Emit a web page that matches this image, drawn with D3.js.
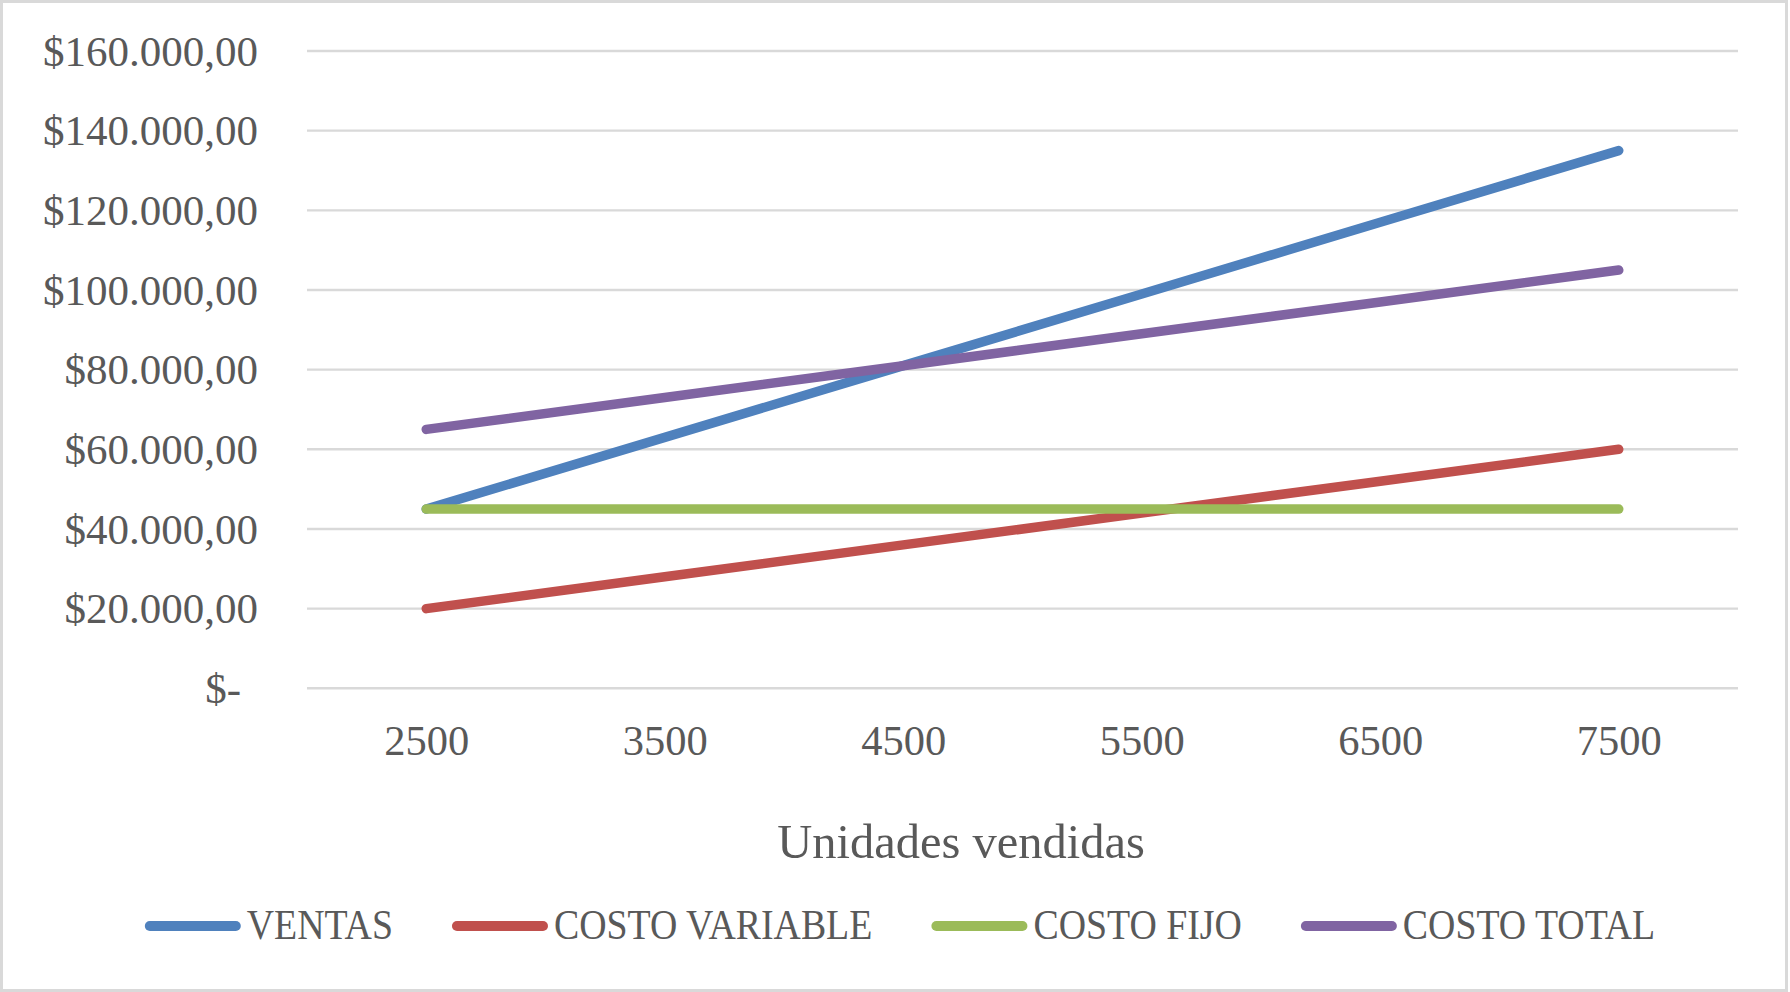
<!DOCTYPE html>
<html>
<head>
<meta charset="utf-8">
<script src="https://cdn.jsdelivr.net/npm/d3@7"></script>
<style>
  html, body { margin: 0; padding: 0; background: #ffffff; }
  svg { display: block; }
  text { font-family: "Liberation Serif", "DejaVu Serif", serif; fill: #595959; }
</style>
</head>
<body>
<svg id="chart" width="1790" height="992"></svg>
<script>
// ---- data ----
const categories = ["2500", "3500", "4500", "5500", "6500", "7500"];
const ventas        = [45000, 63000, 81000, 99000, 117000, 135000];
const costoVariable = [20000, 28000, 36000, 44000, 52000, 60000];
const costoFijo     = [45000, 45000, 45000, 45000, 45000, 45000];
const costoTotal    = [65000, 73000, 81000, 89000, 97000, 105000];
const seriesNames   = ["VENTAS", "COSTO VARIABLE", "COSTO FIJO", "COSTO TOTAL"];
const yTickValues   = [0, 20000, 40000, 60000, 80000, 100000, 120000, 140000, 160000];
const xTitle = "Unidades vendidas";

// ---- styles ----
const colors = ["#4F81BD", "#C0504D", "#9BBB59", "#8064A2"];
const seriesValues = [ventas, costoVariable, costoFijo, costoTotal];
const series = seriesNames.map((n, i) => ({ name: n, values: seriesValues[i], color: colors[i] }));

const W = 1790, H = 992;
const plot = { left: 307, right: 1738, top: 51, bottom: 688.3 };

const svg = d3.select("#chart");

// outer border
svg.append("rect")
  .attr("x", 1.5).attr("y", 1.5)
  .attr("width", 1785).attr("height", 989)
  .attr("fill", "#ffffff")
  .attr("stroke", "#d9d9d9").attr("stroke-width", 3);

const x = d3.scalePoint().domain(categories).range([plot.left, plot.right]).padding(0.5);
const y = d3.scaleLinear().domain([0, 160000]).range([plot.bottom, plot.top]);

const loc = d3.formatLocale({ decimal: ",", thousands: ".", grouping: [3], currency: ["$", ""] });
const fmt = loc.format("$,.2f");
const yFmt = v => v === 0 ? "$-" : fmt(v);

// gridlines
svg.append("g").selectAll("line").data(yTickValues).join("line")
  .attr("x1", plot.left).attr("x2", plot.right)
  .attr("y1", d => y(d)).attr("y2", d => y(d))
  .attr("stroke", "#d9d9d9").attr("stroke-width", 2.4);

// y axis
const yAxis = svg.append("g")
  .attr("transform", `translate(${plot.left - 49},0)`)
  .call(d3.axisLeft(y).tickValues(yTickValues).tickFormat(yFmt).tickSize(0).tickPadding(0));
yAxis.select(".domain").remove();
yAxis.selectAll("text")
  .attr("font-family", "Liberation Serif, DejaVu Serif, serif")
  .attr("font-size", 43)
  .attr("fill", "#595959")
  .attr("dy", "0.33em")
  .attr("dx", d => d === 0 ? -17 : 0);

// x axis
const xAxis = svg.append("g")
  .attr("transform", `translate(0,${plot.bottom})`)
  .call(d3.axisBottom(x).tickSize(0).tickPadding(0));
xAxis.select(".domain").remove();
xAxis.selectAll("text")
  .attr("font-family", "Liberation Serif, DejaVu Serif, serif")
  .attr("font-size", 42.5)
  .attr("fill", "#595959")
  .attr("dy", null)
  .attr("y", 755 - plot.bottom);

// x title
svg.append("text")
  .attr("x", 961).attr("y", 858)
  .attr("text-anchor", "middle")
  .attr("font-size", 48.5)
  .text(xTitle);

// lines
const line = d3.line().x((d, i) => x(categories[i])).y(d => y(d));
svg.append("g").selectAll("path").data(series).join("path")
  .attr("d", d => line(d.values))
  .attr("fill", "none")
  .attr("stroke", d => d.color)
  .attr("stroke-width", 9.5)
  .attr("stroke-linecap", "round")
  .attr("stroke-linejoin", "round");

// legend
const legendY = 926;
const swatchW = 96, swatchGap = 6, itemGap = 59, squeeze = 0.89;
const legend = svg.append("g");
const items = legend.selectAll("g").data(series).join("g");
items.append("line")
  .attr("x1", 5).attr("x2", swatchW - 5)
  .attr("y1", legendY).attr("y2", legendY)
  .attr("stroke", d => d.color)
  .attr("stroke-width", 10)
  .attr("stroke-linecap", "round");
const labels = items.append("text")
  .attr("font-size", 42.5)
  .attr("y", 939)
  .text(d => d.name);
// layout
let widths = [];
labels.each(function () { widths.push(this.getComputedTextLength() * squeeze); });
const totalW = d3.sum(widths) + series.length * (swatchW + swatchGap) + (series.length - 1) * itemGap;
let cx = W / 2 + 5 - totalW / 2;
items.each(function (d, i) {
  const g = d3.select(this);
  g.attr("transform", `translate(${cx},0)`);
  g.select("text").attr("transform", `translate(${swatchW + swatchGap},0) scale(${squeeze},1)`);
  cx += swatchW + swatchGap + widths[i] + itemGap;
});
</script>
</body>
</html>
